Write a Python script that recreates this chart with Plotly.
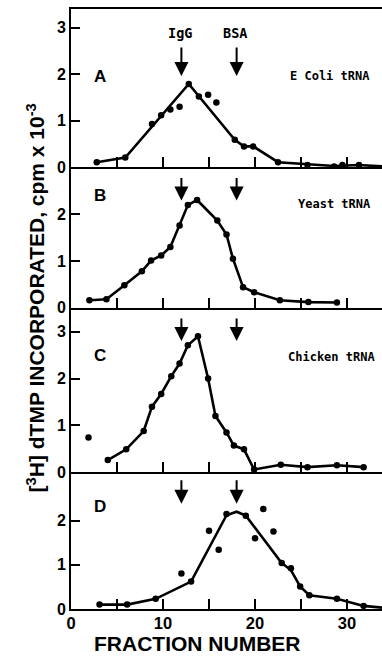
import plotly.graph_objects as go

# ---------------- data ----------------
# Panel A : E. coli tRNA
A_pts_x = [2.8, 5.9, 8.8, 9.8, 10.8, 11.8, 12.8, 13.9, 14.9, 15.8, 17.8, 18.8, 19.8, 22.5, 25.7, 28.6, 29.5, 31.3]
A_pts_y = [0.11, 0.21, 0.93, 1.12, 1.24, 1.30, 1.79, 1.52, 1.56, 1.39, 0.59, 0.45, 0.45, 0.11, 0.05, 0.02, 0.05, 0.05]
A_line_x = [2.8, 5.9, 12.8, 17.8, 18.8, 19.8, 22.5, 25.7, 28.6, 31.3, 33.8]
A_line_y = [0.11, 0.21, 1.79, 0.59, 0.45, 0.45, 0.11, 0.06, 0.03, 0.05, 0.02]

# Panel B : Yeast tRNA
B_x = [2.0, 3.85, 5.8, 7.7, 8.7, 9.8, 10.8, 11.8, 12.7, 13.7, 15.9, 16.9, 17.6, 18.7, 19.9, 22.7, 25.8, 28.9]
B_y = [0.16, 0.18, 0.48, 0.78, 1.01, 1.12, 1.30, 1.76, 2.20, 2.31, 1.87, 1.57, 1.05, 0.44, 0.33, 0.16, 0.12, 0.11]

# Panel C : Chicken tRNA
C_iso_x = [1.9]
C_iso_y = [0.74]
C_x = [4.0, 6.0, 7.9, 8.8, 9.8, 10.9, 11.8, 12.7, 13.8, 14.9, 15.7, 16.9, 17.7, 18.8, 19.9, 22.8, 25.7, 28.9, 31.8]
C_y = [0.26, 0.49, 0.88, 1.40, 1.67, 2.05, 2.32, 2.71, 2.90, 2.00, 1.20, 0.85, 0.57, 0.49, 0.06, 0.16, 0.11, 0.15, 0.11]

# Panel D
D_pts_x = [3.1, 6.1, 9.2, 12.0, 13.05, 15.0, 16.05, 16.9, 19.0, 20.0, 20.9, 22.0, 22.9, 23.9, 24.9, 25.9, 28.9, 31.8]
D_pts_y = [0.10, 0.10, 0.23, 0.80, 0.62, 1.77, 1.34, 2.15, 2.11, 1.60, 2.26, 1.75, 1.04, 0.92, 0.51, 0.31, 0.23, 0.07]
D_line_x = [3.1, 6.1, 9.2, 13.05, 16.9, 18.0, 19.0, 22.9, 23.9, 24.9, 25.9, 28.9, 31.8, 33.8]
D_line_y = [0.10, 0.10, 0.23, 0.62, 2.12, 2.20, 2.11, 1.04, 0.88, 0.51, 0.31, 0.23, 0.07, 0.03]

panel_letters = ["A", "B", "C", "D"]
panel_names = ["E Coli tRNA", "Yeast tRNA", "Chicken tRNA", ""]
marker_labels = ["IgG", "BSA"]
marker_pos = [12, 18]
x_ticks = [0, 5, 10, 15, 20, 25, 30]
x_ticktext = ["0", "", "10", "", "20", "", "30"]
y_tickvals = [[0, 1, 2, 3], [0, 1, 2], [0, 1, 2, 3], [0, 1, 2]]
y_ranges = [3.4, 3.01, 3.51, 3.09]
domains = [[0.7361, 1.0], [0.5022, 0.7361], [0.2278, 0.5022], [0.0, 0.2278]]
arrow_tips = [1.96, 2.30, 2.80, 2.38]
arrow_len = [30, 24, 24, 25]
letter_y = [1.96, 2.40, 2.50, 2.32]
name_pos = [(28.1, 1.96), (28.6, 2.23), (28.3, 2.45)]

FONT = "Liberation Sans, Arial, sans-serif"
MONO = "DejaVu Sans Mono, monospace"

fig = go.Figure()

def add(x, y, ax, mode, **kw):
    fig.add_trace(go.Scatter(x=x, y=y, mode=mode, xaxis="x" + ax, yaxis="y" + ax,
                             showlegend=False, hoverinfo="skip", **kw))

line_style = dict(color="black", width=2.6)
mk = dict(color="black", size=6.5)

# A
add(A_line_x, A_line_y, "", "lines", line=line_style)
add(A_pts_x, A_pts_y, "", "markers", marker=mk)
# B
add(B_x, B_y, "2", "lines+markers", line=line_style, marker=mk)
# C
add(C_x, C_y, "3", "lines+markers", line=line_style, marker=mk)
add(C_iso_x, C_iso_y, "3", "markers", marker=mk)
# D
add(D_line_x, D_line_y, "4", "lines", line=line_style)
add(D_pts_x, D_pts_y, "4", "markers", marker=mk)

layout = dict(
    width=382, height=657,
    margin=dict(l=71, r=0, t=9, b=48),
    paper_bgcolor="white", plot_bgcolor="white",
    font=dict(family=FONT, color="black"),
)

axis_ids = ["", "2", "3", "4"]
for i, aid in enumerate(axis_ids):
    xa = dict(domain=[0, 1], range=[0, 33.8], anchor="y" + aid,
              showline=True, linecolor="black", linewidth=2,
              ticks="inside", ticklen=10, tickwidth=2, tickcolor="black",
              tickvals=x_ticks, ticktext=x_ticktext,
              showticklabels=(i == 3), showgrid=False, zeroline=False,
              ticklabelstandoff=-2,
              tickfont=dict(size=16.5, family=FONT, weight="bold"),
              mirror=(i == 0))
    ya = dict(domain=domains[i], range=[0, y_ranges[i]], anchor="x" + aid,
              showline=True, linecolor="black", linewidth=2,
              ticks="inside", ticklen=9, tickwidth=2, tickcolor="black",
              tickvals=y_tickvals[i],
              showgrid=False, zeroline=False,
              tickfont=dict(size=16, family=FONT, weight="bold"))
    layout["xaxis" + aid] = xa
    layout["yaxis" + aid] = ya

annotations = []
for i, aid in enumerate(axis_ids):
    xr, yr = "x" + aid, "y" + aid
    # arrows
    for p in marker_pos:
        annotations.append(dict(x=p, y=arrow_tips[i], xref=xr, yref=yr, text="",
                                showarrow=True, ax=0, ay=-arrow_len[i],
                                arrowhead=2, arrowsize=1.4, arrowwidth=2, arrowcolor="black"))
    annotations.append(dict(x=3.2, y=letter_y[i], xref=xr, yref=yr, text=panel_letters[i],
                            showarrow=False, font=dict(size=17, family=FONT, weight="bold")))
    if panel_names[i]:
        annotations.append(dict(x=name_pos[i][0], y=name_pos[i][1], xref=xr, yref=yr,
                                text=panel_names[i], showarrow=False,
                                font=dict(size=12, family=MONO, weight="bold")))
for lab, p in zip(marker_labels, [11.9, 17.8]):
    annotations.append(dict(x=p, y=2.88, xref="x", yref="y", text=lab, showarrow=False,
                            font=dict(size=13.5, family=MONO, weight="bold")))

annotations.append(dict(x=-0.1125, y=0.5177, xref="paper", yref="paper", textangle=-90,
                        xanchor="center", yanchor="middle",
                        text="[<sup>3</sup>H] dTMP INCORPORATED, cpm x 10<sup>-3</sup>",
                        showarrow=False, font=dict(size=21, family=FONT, weight="bold")))
annotations.append(dict(x=(197 - 71) / 311, y=-0.0793, xref="paper", yref="paper",
                        xanchor="center", yanchor="bottom", text="FRACTION NUMBER",
                        showarrow=False, font=dict(size=21, family=FONT, weight="bold")))
layout["annotations"] = annotations

fig.update_layout(**layout)
fig.write_html("out.html")
